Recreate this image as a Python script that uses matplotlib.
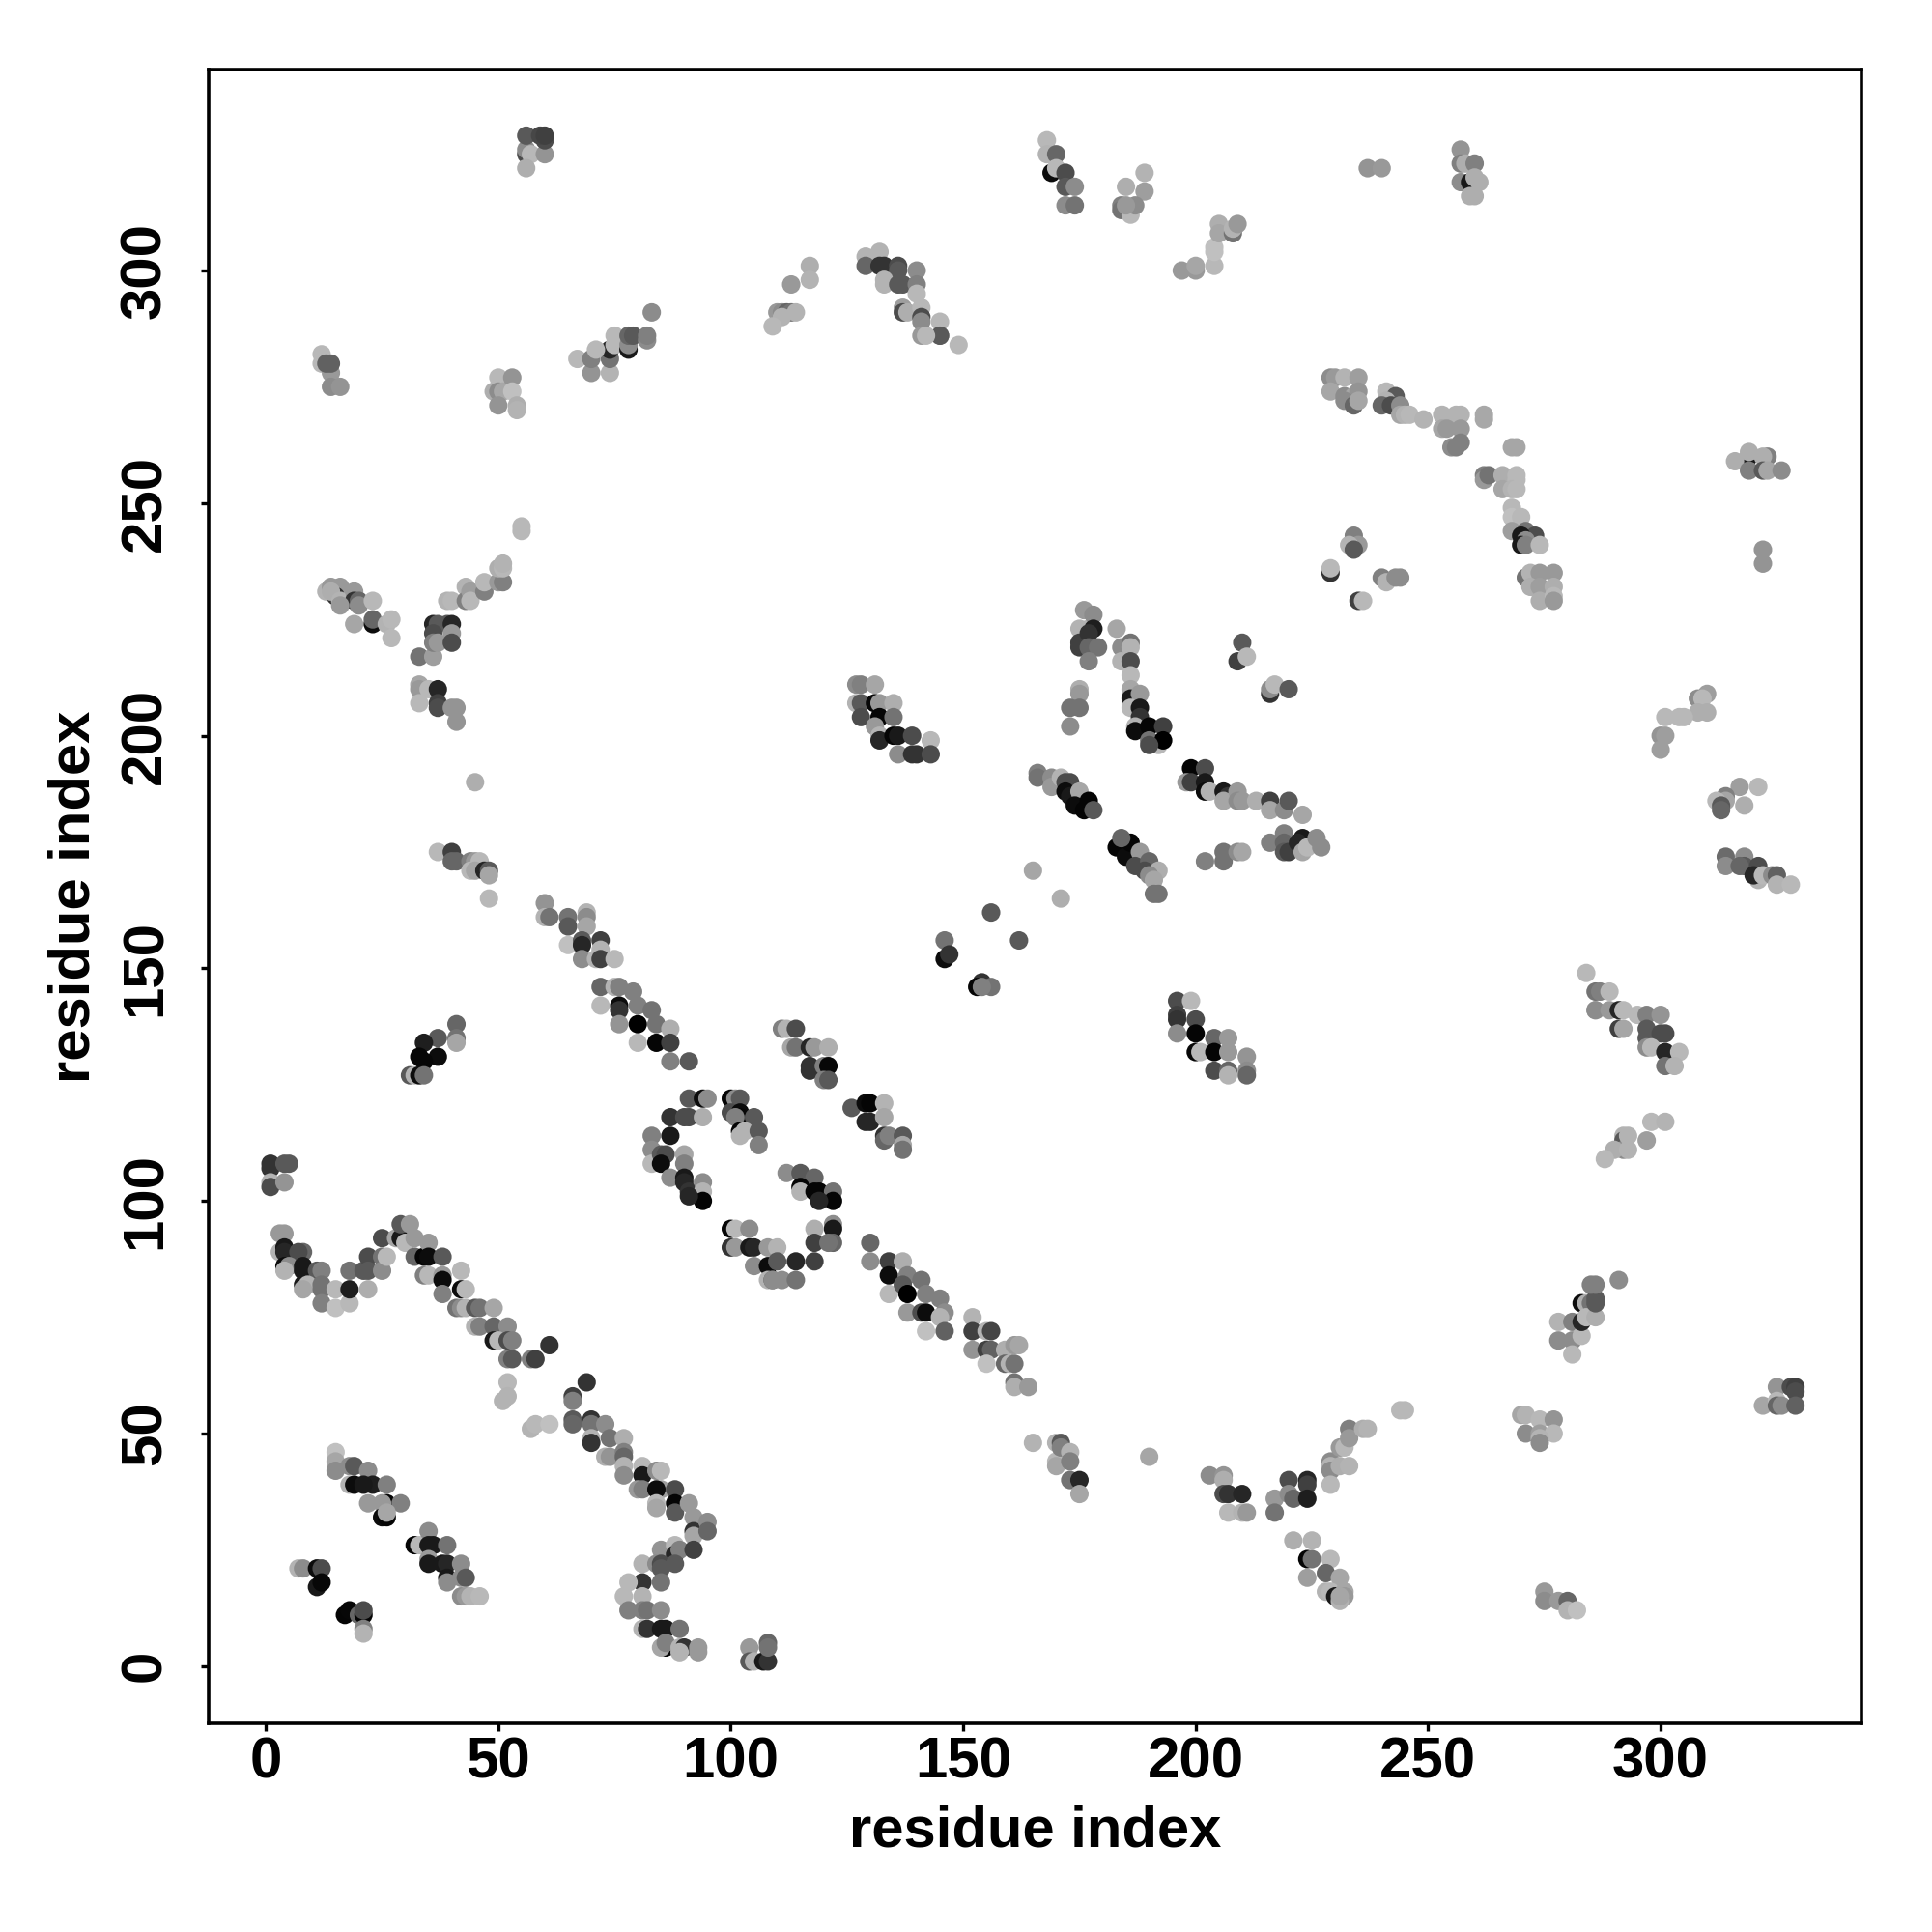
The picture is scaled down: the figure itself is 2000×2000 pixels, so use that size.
import matplotlib
matplotlib.use("Agg")
import matplotlib.pyplot as plt

# contact points, grouped by area of the plot
# gray = shade of the dot (0 black, 1 white)

x_upper_left = [56,56,57,60,56,60,56,59,60,
                12,12,14,14,16,13,14,
                49,50,50,51,53,50,53,54,54,
                67,70,70,74,74,74,71,75,75,78,78,78,79,82,82,83]
y_upper_left = [325,326,325,325,322,328,329,329,329,
                282,280,278,275,275,280,280,
                274,277,274,274,277,271,274,271,270,
                281,278,281,278,281,283,283,284,286,283,284,286,286,285,286,291]
g_upper_left = [.3,.55,.72,.58,.68,.3,.35,.28,.25,
                .72,.72,.6,.55,.58,.38,.38,
                .68,.72,.55,.66,.58,.58,.75,.68,.7,
                .72,.58,.5,.7,.45,.15,.72,.72,.72,.1,.55,.4,.35,.55,.5,.55]

x_left_v = [13,14,16,15,14,16,19,19,20,16,20,23,19,23,23,26,27,27,
            36,37,39,40,36,40,33,36,36,37,40,33,33,33,35,37,37,37,40,41,41,
            39,40,43,43,44,44,47,47,50,51,50,51,51,55,55,45,
            37,40,40,41,44,45,46,44,45,47,48,48,48]
y_left_v = [231,232,232,230,231,229,231,229,229,228,228,229,224,224,225,224,225,221,
            224,224,224,224,222,222,217,217,220,220,220,211,210,207,210,210,207,206,206,206,203,
            229,229,232,229,231,229,231,233,233,233,236,236,237,245,244,190,
            175,175,173,173,173,173,173,171,171,171,171,170,165]
g_left_v = [.7,.6,.6,.2,.68,.7,.6,.2,.4,.6,.55,.72,.65,.05,.4,.7,.72,.72,
            .15,.35,.35,.15,.3,.6,.45,.62,.5,.6,.3,.65,.6,.72,.72,.15,.25,.3,.58,.58,.58,
            .7,.72,.7,.5,.62,.72,.5,.72,.6,.5,.68,.72,.7,.72,.72,.68,
            .72,.25,.4,.4,.5,.6,.72,.72,.65,.15,.35,.65,.72]

x_diag_a = [60,60,61,65,65,69,69,69,65,68,68,72,72,68,71,72,75,
            72,75,76,79,72,76,76,80,83,76,80,84,87,80,84,87,87,91,
            41,41,41,37,34,37,33,34,31,32,33,34,
            1,1,4,5,1,1,4]
y_diag_a = [164,161,161,161,159,162,161,159,155,156,155,156,154,152,152,152,152,
            146,146,146,145,142,142,141,142,141,138,138,138,137,134,134,134,130,130,
            138,135,134,135,134,131,131,130,127,127,127,127,
            108,107,108,108,104,103,104]
g_diag_a = [.58,.7,.45,.45,.35,.7,.55,.65,.75,.35,.15,.25,.7,.55,.7,.25,.72,
            .4,.7,.5,.5,.72,.05,.2,.5,.45,.58,.0,.45,.68,.72,.02,.25,.5,.35,
            .4,.45,.65,.35,.12,.05,.03,.03,.35,.7,.05,.45,
            .2,.2,.35,.35,.7,.3,.58]

x_ring = [91,94,95,87,90,91,94,83,87,83,83,85,86,85,90,90,87,90,90,91,94,94,94,91,
          100,101,102,100,102,102,101,105,102,103,102,106,106,
          100,101,104,100,101,104,105,108,105,108,108,109,
          112,115,118,115,115,119,118,122,122,119,
          118,122,122,118,122,121,118,114,110,110,111,114,109]
y_ring = [122,122,122,118,118,118,118,114,114,111,108,110,110,108,110,108,105,105,104,102,104,102,100,101,
          122,122,122,119,119,118,118,118,115,115,114,115,112,
          94,94,94,90,90,90,90,90,86,86,83,83,
          106,106,105,103,102,102,102,102,100,100,
          94,95,94,91,91,91,87,87,90,87,83,83,83]
g_ring = [.35,.05,.55,.2,.3,.3,.68,.5,.1,.55,.72,.35,.3,.05,.65,.5,.55,.1,.15,.2,.55,.7,.02,.15,
          .02,.55,.35,.3,.05,.03,.5,.35,.02,.7,.7,.35,.5,
          .02,.72,.55,.2,.6,.1,.15,.6,.55,.05,.7,.35,
          .55,.35,.4,.02,.7,.02,.02,.45,.02,.15,
          .68,.55,.1,.25,.4,.45,.25,.15,.7,.35,.55,.45,.55]

x_centre_a = [111,112,114,113,114,117,118,121,117,117,120,121,120,121,
              126,129,130,133,129,130,133,133,133,134,137,137,137,
              130,130,134,137,134,138,141,134,137,138,142,145,138,141,142,146,145,146,142,
              152,152,155,156,152,155,156,159,161,162,155,159,160,161,161,161,164]
y_centre_a = [137,137,137,133,133,133,133,133,129,128,129,129,126,126,
              120,121,121,121,117,117,118,114,113,114,114,112,111,
              91,87,87,87,84,84,83,80,82,80,80,79,76,76,76,76,75,72,72,
              75,72,72,72,68,68,68,68,69,69,65,65,65,65,61,60,60]
g_centre_a = [.5,.7,.3,.65,.45,.15,.6,.68,.2,.2,.5,.03,.5,.35,
              .35,.05,.02,.7,.15,.15,.65,.2,.4,.5,.35,.65,.45,
              .4,.55,.25,.68,.05,.5,.45,.72,.35,.0,.5,.5,.6,.3,.05,.55,.7,.38,.75,
              .7,.25,.7,.27,.58,.25,.38,.68,.6,.65,.75,.4,.7,.45,.45,.68,.6]

x_centre_b = [127,128,131,127,128,128,131,132,135,132,135,131,132,132,135,136,139,143,136,139,140,143,
              175,177,175,176,178,178,177,175,177,179,177,
              183,184,186,186,184,186,186,186,186,188,186,188,188,187,187,190,193,190,192,193,190,
              175,175,173,175,173,
              210,209,211,216,216,217,220]
y_centre_b = [211,211,211,207,207,204,207,207,207,204,204,202,200,199,200,200,200,199,196,196,196,196,
              223,223,220,227,226,223,222,219,219,219,216,
              223,219,220,219,216,216,213,210,208,209,206,206,204,202,201,202,202,199,198,199,198,
              210,209,206,206,202,
              220,216,217,209,210,211,210]
g_centre_b = [.55,.5,.65,.7,.35,.3,.03,.6,.68,.03,.45,.6,.7,.15,.02,.1,.3,.72,.55,.2,.2,.3,
              .7,.7,.25,.6,.55,.12,.2,.25,.4,.45,.5,
              .65,.55,.45,.7,.7,.3,.72,.65,.1,.6,.72,.1,.2,.7,.05,.02,.25,.45,.72,.0,.3,
              .68,.6,.45,.45,.55,
              .35,.25,.72,.2,.55,.72,.35]

x_centre_c = [166,166,169,169,171,172,173,172,173,175,174,177,176,178,
              183,185,186,184,188,187,190,189,192,190,191,192,191,
              165,171,156,162,146,146,147,154,153,156,154,
              199,202,198,199,202,202,203,206,207,206,209,209,210,213,216,216,219,220,223,
              202,206,206,209,210,
              216,219,219,219,220,223,222,223,224,226,227]
y_centre_c = [192,191,191,189,191,190,190,188,187,188,185,186,184,184,
              176,174,177,178,175,172,173,171,171,170,169,166,166,
              171,165,162,156,156,152,153,147,146,146,146,
              193,193,190,190,190,188,188,188,187,186,188,186,186,186,186,184,184,186,183,
              173,175,173,175,175,
              177,179,177,175,175,178,177,175,176,178,176]
g_centre_c = [.5,.45,.55,.6,.7,.3,.3,.05,.1,.65,.05,.02,.02,.35,
              .02,.05,.02,.4,.6,.3,.4,.3,.68,.55,.65,.45,.45,
              .65,.68,.35,.35,.45,.05,.2,.2,.02,.45,.5,
              .02,.3,.6,.25,.1,.05,.7,.1,.2,.65,.6,.55,.6,.68,.25,.65,.55,.35,.65,
              .5,.45,.45,.55,.65,
              .5,.5,.4,.35,.25,.1,.15,.65,.72,.55,.55]

x_centre_d = [196,199,196,196,196,200,200,200,201,204,204,207,207,204,207,207,211,211,211]
y_centre_d = [143,143,140,139,136,139,136,132,132,135,132,135,132,128,128,127,131,128,127]
g_centre_d = [.3,.72,.25,.2,.55,.3,.02,.03,.72,.4,.02,.6,.6,.3,.4,.7,.58,.55,.4]

x_top_mid = [117,117,113,110,111,112,113,114,111,109,
             129,132,129,132,133,136,136,140,133,133,136,137,140,140,137,137,138,141,141,141,145,145,145,141,142,149,
             168,168,170,169,170,172,172,174,172,174,
             185,189,189,184,184,186,186,187,185,
             197,200,200,204,204,204,205,205,208,208,209]
y_top_mid = [301,298,297,291,291,291,291,291,290,288,
             303,304,301,301,301,301,300,300,298,297,297,297,297,295,292,291,291,292,290,289,289,286,286,286,286,284,
             328,325,325,321,322,321,318,318,314,314,
             318,321,317,314,313,313,312,314,314,
             300,300,301,301,305,304,310,308,308,309,310]
g_top_mid = [.68,.7,.6,.6,.55,.4,.45,.7,.7,.72,
             .7,.7,.4,.2,.2,.3,.35,.55,.7,.7,.35,.35,.5,.72,.62,.3,.68,.72,.3,.55,.72,.5,.35,.6,.72,.72,
             .72,.7,.4,.05,.72,.3,.35,.55,.55,.45,
             .68,.7,.62,.5,.45,.7,.72,.55,.6,
             .6,.6,.65,.72,.75,.75,.68,.65,.45,.7,.6]

x_top_right = [237,240,257,257,258,260,257,259,261,260,259,260,
               229,230,232,235,229,232,234,235,232,234,235,
               241,243,241,240,242,244,244,245,246,249,253,253,256,257,254,257,255,257,256,262,262,
               268,269,262,262,263,266,269,269,266,268,269,
               268,268,270,268,271,273,270,271,270,271,274,
               234,235,233,234,229,229,240,241,243,244,235,236,
               271,272,274,277,272,274,277,274,277,277,
               319,316,319,319,323,322,322,323,326,322,322]
y_top_right = [322,322,326,323,323,323,319,319,319,320,316,316,
               277,277,277,277,274,273,273,274,272,271,272,
               274,273,272,271,271,271,269,269,269,268,269,266,269,269,266,266,262,263,262,269,268,
               262,262,256,255,256,256,256,255,253,253,253,
               249,247,247,244,244,243,243,242,241,241,241,
               243,241,241,240,235,236,234,233,234,234,229,229,
               234,235,235,235,232,232,232,229,230,229,
               260,259,261,257,260,260,257,257,257,240,237]
g_top_right = [.58,.6,.58,.5,.68,.5,.55,.1,.68,.68,.68,.68,
               .55,.6,.7,.62,.65,.55,.65,.58,.55,.4,.65,
               .72,.35,.7,.4,.3,.55,.65,.7,.72,.7,.7,.65,.7,.7,.6,.6,.55,.5,.5,.66,.66,
               .65,.65,.5,.6,.45,.68,.72,.72,.65,.7,.72,
               .72,.75,.72,.62,.45,.3,.1,.55,.1,.5,.72,
               .5,.6,.7,.35,.2,.72,.5,.7,.55,.55,.25,.72,
               .45,.7,.6,.6,.68,.62,.68,.68,.72,.6,
               .1,.68,.68,.5,.5,.68,.35,.65,.55,.58,.58]

x_right = [310,308,309,310,308,305,304,301,300,301,300,
           317,321,314,314,312,313,313,318,
           314,314,318,318,317,321,321,320,322,324,325,325,328,
           284,286,287,289,286,286,289,291,292,295,297,300,291,292,297,297,300,301,297,298,301,304,301,303,
           298,301,297,292,292,292,290,288,293,293]
y_right = [209,208,208,205,205,204,204,204,200,200,197,
           189,189,187,186,186,185,184,185,
           174,172,174,172,172,172,169,170,170,170,170,168,168,
           149,145,145,145,141,141,141,141,141,140,140,140,137,137,137,135,136,136,133,133,132,132,129,129,
           117,117,113,114,113,111,111,109,114,111]
g_right = [.62,.55,.72,.68,.68,.72,.72,.72,.58,.62,.62,
           .62,.72,.5,.65,.72,.35,.4,.68,
           .42,.55,.55,.35,.4,.3,.7,.15,.72,.55,.38,.7,.72,
           .72,.45,.5,.72,.65,.55,.6,.15,.72,.72,.5,.58,.25,.65,.35,.35,.3,.3,.55,.72,.15,.72,.45,.7,
           .72,.7,.62,.7,.35,.55,.68,.72,.7,.7]

x_lower_wave = [3,4,3,4,4,8,7,4,5,4,8,8,11,12,8,9,8,12,12,12,15,15,18,18,18,21,22,22,22,25,25,25,26,
                28,29,29,30,31,32,32,34,35,35,38,34,35,38,38,38,42,42,43,41,42,43,45,46,49,45,46,49,52,49,50,52,53,52,53,57,58,61,
                52,52,51,57,58,61]
y_lower_wave = [93,93,89,90,89,89,89,86,86,85,86,85,85,85,82,82,81,82,81,78,81,77,78,81,85,85,88,85,81,92,88,85,88,
                92,92,95,91,95,92,88,88,91,88,88,84,84,84,83,80,85,81,81,77,77,77,77,77,77,73,73,73,73,70,70,70,70,66,66,66,66,69,
                61,58,57,51,52,52]
g_lower_wave = [.6,.6,.7,.1,.15,.4,.3,.05,.55,.7,.1,.1,.35,.5,.1,.7,.65,.45,.45,.5,.72,.75,.72,.12,.45,.35,.3,.35,.68,.3,.45,.55,.72,
                .65,.1,.35,.72,.6,.6,.4,.02,.6,.05,.35,.5,.72,.6,.05,.5,.72,.05,.72,.45,.55,.7,.35,.45,.65,.7,.5,.4,.55,.1,.72,.3,.5,.5,.35,.5,.25,.2,
                .72,.7,.7,.7,.72,.75]

x_lower_hook = [69,66,66,66,66,70,70,70,70,73,74,73,74,77,77,77,77,77,81,81,80,81,84,85,85,84,84,84,88,88,88,91,92,92,92,95,95,
                85,88,88,89,92,81,84,85,85,88,81,85,78,77,81,78,81,82,85,81,82,85,86,89,86,85,86,89,90,93,93,89,
                104,104,105,107,108,108,108]
y_lower_hook = [61,58,57,53,52,53,52,49,48,52,49,45,45,49,46,45,43,41,43,41,38,38,42,42,38,38,35,34,38,35,33,35,32,29,28,31,29,
                25,26,24,25,25,22,22,22,21,22,18,18,18,15,15,12,12,12,12,8,8,8,8,8,4,4,5,4,4,4,3,3,
                4,1,1,1,1,5,4]
g_lower_hook = [.2,.25,.5,.35,.4,.2,.45,.7,.2,.55,.45,.68,.58,.68,.5,.4,.7,.55,.72,.1,.6,.5,.55,.72,.62,.05,.72,.65,.3,.02,.35,.6,.6,.2,.65,.55,.4,
                .58,.72,.15,.5,.25,.7,.55,.3,.35,.35,.2,.45,.72,.72,.7,.5,.5,.45,.55,.7,.2,.1,.1,.45,.02,.65,.5,.7,.2,.6,.6,.7,
                .6,.35,.7,.1,.2,.4,.45]

x_lower_left = [15,15,15,18,19,18,19,22,23,26,21,22,26,25,29,25,26,26,
                32,33,35,35,36,39,35,35,38,39,42,39,39,42,43,42,43,44,46,
                7,8,11,12,11,12,17,18,20,21,21,21,21]
y_lower_left = [46,44,42,43,43,39,39,42,39,39,39,35,35,35,35,32,32,33,
                26,26,29,26,26,26,23,22,22,22,22,19,18,19,19,15,15,15,15,
                21,21,21,21,17,18,11,12,11,11,12,8,7]
g_lower_left = [.75,.65,.55,.55,.35,.7,.05,.55,.12,.5,.1,.6,.02,.6,.5,.05,.02,.65,
                .02,.72,.55,.1,.1,.45,.6,.1,.1,.15,.55,.1,.55,.55,.35,.55,.6,.7,.72,
                .7,.55,.05,.3,.1,.03,.02,.03,.4,.02,.3,.5,.7]

x_lower_mid = [165,170,170,170,171,171,173,173,173,175,175,190,
               203,206,206,206,207,210,207,210,211,217,217,220,224,224,220,221,224,
               229,229,229,229,231,232,231,233,233,233,236,237,244,245,
               221,225,224,225,224,229,228,231,228,229,230,232,232,231,231]
y_lower_mid = [48,44,43,48,48,47,46,44,40,40,37,45,
               41,41,40,37,37,37,33,33,33,36,33,40,40,39,37,36,36,
               44,43,42,39,47,47,43,43,51,49,51,51,55,55,
               27,27,23,23,19,23,20,19,16,16,15,16,15,14,15]
g_lower_mid = [.7,.72,.65,.7,.35,.5,.7,.5,.45,.15,.65,.65,
               .55,.58,.68,.3,.2,.15,.72,.7,.6,.6,.45,.3,.15,.25,.55,.4,.12,
               .55,.7,.55,.72,.6,.72,.68,.7,.5,.6,.68,.7,.72,.72,
               .68,.7,.02,.45,.62,.72,.4,.65,.7,.72,.1,.65,.6,.7,.65]

x_lower_right = [270,271,271,274,274,277,277,274,274,
                 275,275,278,280,280,282,
                 278,278,281,281,281,283,283,283,284,285,284,286,286,286,285,286,291,
                 325,328,329,329,322,325,325,326,329]
y_lower_right = [54,54,50,53,50,53,50,49,48,
                 16,14,14,14,12,12,
                 74,70,74,70,67,71,74,78,78,78,75,75,78,79,82,82,83,
                 60,60,60,59,56,57,56,56,56]
g_lower_right = [.65,.7,.55,.72,.62,.58,.72,.7,.55,
                 .6,.55,.6,.4,.7,.75,
                 .7,.55,.5,.55,.72,.72,.15,.05,.68,.45,.72,.68,.35,.35,.5,.5,.55,
                 .58,.3,.25,.3,.65,.72,.4,.55,.38]

groups = [
    (x_upper_left, y_upper_left, g_upper_left),
    (x_left_v, y_left_v, g_left_v),
    (x_diag_a, y_diag_a, g_diag_a),
    (x_ring, y_ring, g_ring),
    (x_centre_a, y_centre_a, g_centre_a),
    (x_centre_b, y_centre_b, g_centre_b),
    (x_centre_c, y_centre_c, g_centre_c),
    (x_centre_d, y_centre_d, g_centre_d),
    (x_top_mid, y_top_mid, g_top_mid),
    (x_top_right, y_top_right, g_top_right),
    (x_right, y_right, g_right),
    (x_lower_wave, y_lower_wave, g_lower_wave),
    (x_lower_hook, y_lower_hook, g_lower_hook),
    (x_lower_left, y_lower_left, g_lower_left),
    (x_lower_mid, y_lower_mid, g_lower_mid),
    (x_lower_right, y_lower_right, g_lower_right),
]

ticks = [0, 50, 100, 150, 200, 250, 300]

plt.rcParams['font.family'] = ['Liberation Sans', 'DejaVu Sans']
plt.rcParams['font.weight'] = 'bold'

fig = plt.figure(figsize=(10, 10), dpi=200)
ax = fig.add_axes([0.108, 0.108, 0.8555, 0.856])

for i, (x, y, g) in enumerate(groups):
    n = min(len(x), len(y), len(g))
    if not (len(x) == len(y) == len(g)):
        print("length mismatch in group", i, len(x), len(y), len(g))
    ax.scatter(x[:n], y[:n], c=g[:n], cmap='gray', vmin=0, vmax=1, s=47, linewidths=0)

ax.set_xlim(-12.3, 343.2)
ax.set_ylim(-12.3, 343.2)
ax.set_xticks(ticks)
ax.set_yticks(ticks)
ax.tick_params(length=3, width=1.2, labelsize=21.6)
ax.tick_params(axis='x', pad=2)
ax.tick_params(axis='y', pad=10.5)
for lab in ax.get_yticklabels():
    lab.set_rotation(90)
    lab.set_va('center')
for s in ax.spines.values():
    s.set_linewidth(1.3)

ax.set_xlabel("residue index", fontsize=21.5, fontweight='bold', labelpad=5.5)
ax.set_ylabel("residue index", fontsize=21.5, fontweight='bold', labelpad=7)

fig.savefig("out.png", dpi=200)
